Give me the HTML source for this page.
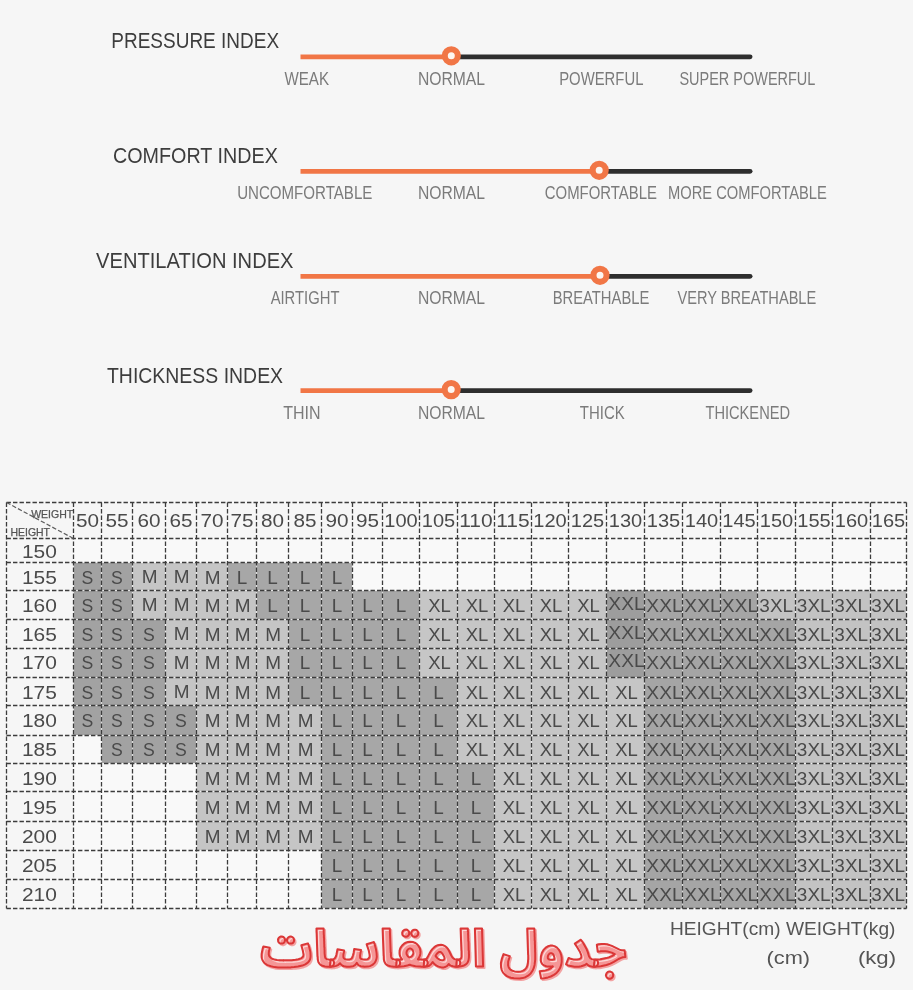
<!DOCTYPE html>
<html lang="en">
<head>
<meta charset="utf-8">
<title>Size chart</title>
<style>
html,body{margin:0;padding:0;background:#f6f6f6;}
body{width:913px;height:990px;overflow:hidden;font-family:"Liberation Sans",sans-serif;}
#page{position:relative;width:913px;height:990px;background:#f6f6f6;overflow:hidden;}
svg{position:absolute;left:0;top:0;display:block;will-change:transform;}
svg text{font-family:"Liberation Sans",sans-serif;white-space:pre;}
</style>
</head>
<body>
<div id="page">
<svg id="indices" width="913" height="990" viewBox="0 0 913 990">
<g class="slider">
<text x="111.29" y="48.40" font-size="22.3" fill="#3d3d3d" textLength="167.83" lengthAdjust="spacingAndGlyphs">PRESSURE INDEX</text>
<line x1="451.3" y1="56.8" x2="750.1" y2="56.8" stroke="#2e2e2e" stroke-width="4.8" stroke-linecap="round"/>
<line x1="300.5" y1="56.8" x2="451.3" y2="56.8" stroke="#f17646" stroke-width="4.8"/>
<circle cx="451.3" cy="55.8" r="6.55" fill="#fdf6f1" stroke="#f17646" stroke-width="6.1"/>
<text x="284.45" y="85.00" font-size="17.5" fill="#7b7b7b" textLength="44.60" lengthAdjust="spacingAndGlyphs">WEAK</text>
<text x="417.95" y="85.00" font-size="17.5" fill="#7b7b7b" textLength="67.10" lengthAdjust="spacingAndGlyphs">NORMAL</text>
<text x="559.15" y="85.00" font-size="17.5" fill="#7b7b7b" textLength="84.30" lengthAdjust="spacingAndGlyphs">POWERFUL</text>
<text x="679.45" y="85.00" font-size="17.5" fill="#7b7b7b" textLength="135.90" lengthAdjust="spacingAndGlyphs">SUPER POWERFUL</text>
</g>
<g class="slider">
<text x="112.98" y="163.00" font-size="22.3" fill="#3d3d3d" textLength="164.83" lengthAdjust="spacingAndGlyphs">COMFORT INDEX</text>
<line x1="599.2" y1="171.3" x2="750.1" y2="171.3" stroke="#2e2e2e" stroke-width="4.8" stroke-linecap="round"/>
<line x1="300.5" y1="171.3" x2="599.2" y2="171.3" stroke="#f17646" stroke-width="4.8"/>
<circle cx="599.2" cy="170.3" r="6.55" fill="#fdf6f1" stroke="#f17646" stroke-width="6.1"/>
<text x="237.15" y="199.30" font-size="17.5" fill="#7b7b7b" textLength="135.20" lengthAdjust="spacingAndGlyphs">UNCOMFORTABLE</text>
<text x="417.95" y="199.30" font-size="17.5" fill="#7b7b7b" textLength="67.10" lengthAdjust="spacingAndGlyphs">NORMAL</text>
<text x="544.75" y="199.30" font-size="17.5" fill="#7b7b7b" textLength="112.20" lengthAdjust="spacingAndGlyphs">COMFORTABLE</text>
<text x="667.95" y="199.30" font-size="17.5" fill="#7b7b7b" textLength="158.90" lengthAdjust="spacingAndGlyphs">MORE COMFORTABLE</text>
</g>
<g class="slider">
<text x="96.09" y="268.30" font-size="22.3" fill="#3d3d3d" textLength="197.43" lengthAdjust="spacingAndGlyphs">VENTILATION INDEX</text>
<line x1="600.0" y1="276.3" x2="750.1" y2="276.3" stroke="#2e2e2e" stroke-width="4.8" stroke-linecap="round"/>
<line x1="300.5" y1="276.3" x2="600.0" y2="276.3" stroke="#f17646" stroke-width="4.8"/>
<circle cx="600.0" cy="275.3" r="6.55" fill="#fdf6f1" stroke="#f17646" stroke-width="6.1"/>
<text x="270.65" y="304.30" font-size="17.5" fill="#7b7b7b" textLength="68.80" lengthAdjust="spacingAndGlyphs">AIRTIGHT</text>
<text x="417.95" y="304.30" font-size="17.5" fill="#7b7b7b" textLength="67.10" lengthAdjust="spacingAndGlyphs">NORMAL</text>
<text x="552.65" y="304.30" font-size="17.5" fill="#7b7b7b" textLength="96.70" lengthAdjust="spacingAndGlyphs">BREATHABLE</text>
<text x="677.45" y="304.30" font-size="17.5" fill="#7b7b7b" textLength="138.80" lengthAdjust="spacingAndGlyphs">VERY BREATHABLE</text>
</g>
<g class="slider">
<text x="106.98" y="382.50" font-size="22.3" fill="#3d3d3d" textLength="176.13" lengthAdjust="spacingAndGlyphs">THICKNESS INDEX</text>
<line x1="451.2" y1="390.6" x2="750.1" y2="390.6" stroke="#2e2e2e" stroke-width="4.8" stroke-linecap="round"/>
<line x1="300.5" y1="390.6" x2="451.2" y2="390.6" stroke="#f17646" stroke-width="4.8"/>
<circle cx="451.2" cy="389.6" r="6.55" fill="#fdf6f1" stroke="#f17646" stroke-width="6.1"/>
<text x="283.15" y="419.30" font-size="17.5" fill="#7b7b7b" textLength="37.30" lengthAdjust="spacingAndGlyphs">THIN</text>
<text x="417.95" y="419.30" font-size="17.5" fill="#7b7b7b" textLength="67.10" lengthAdjust="spacingAndGlyphs">NORMAL</text>
<text x="579.85" y="419.30" font-size="17.5" fill="#7b7b7b" textLength="44.90" lengthAdjust="spacingAndGlyphs">THICK</text>
<text x="705.45" y="419.30" font-size="17.5" fill="#7b7b7b" textLength="84.60" lengthAdjust="spacingAndGlyphs">THICKENED</text>
</g>
</svg>
<svg id="sizechart" width="913" height="990" viewBox="0 0 913 990">
<g id="grid">
<rect x="73.5" y="538.5" width="833.0" height="24.0" fill="#f9f9f9"/>
<rect x="73.5" y="562.5" width="59.0" height="28.0" fill="#a2a2a2"/>
<rect x="132.5" y="562.5" width="95.0" height="28.0" fill="#c5c5c5"/>
<rect x="227.5" y="562.5" width="125.0" height="28.0" fill="#a7a7a7"/>
<rect x="352.5" y="562.5" width="554.0" height="28.0" fill="#f9f9f9"/>
<rect x="73.5" y="590.5" width="59.0" height="29.0" fill="#a2a2a2"/>
<rect x="132.5" y="590.5" width="124.0" height="29.0" fill="#c5c5c5"/>
<rect x="256.5" y="590.5" width="163.0" height="29.0" fill="#a7a7a7"/>
<rect x="419.5" y="590.5" width="187.0" height="29.0" fill="#c6c6c6"/>
<rect x="606.5" y="590.5" width="151.0" height="29.0" fill="#a5a5a5"/>
<rect x="757.5" y="590.5" width="149.0" height="29.0" fill="#c3c3c3"/>
<rect x="73.5" y="619.5" width="92.0" height="29.0" fill="#a2a2a2"/>
<rect x="165.5" y="619.5" width="123.0" height="29.0" fill="#c5c5c5"/>
<rect x="288.5" y="619.5" width="131.0" height="29.0" fill="#a7a7a7"/>
<rect x="419.5" y="619.5" width="187.0" height="29.0" fill="#c6c6c6"/>
<rect x="606.5" y="619.5" width="189.0" height="29.0" fill="#a5a5a5"/>
<rect x="795.5" y="619.5" width="111.0" height="29.0" fill="#c3c3c3"/>
<rect x="73.5" y="648.5" width="92.0" height="29.0" fill="#a2a2a2"/>
<rect x="165.5" y="648.5" width="123.0" height="29.0" fill="#c5c5c5"/>
<rect x="288.5" y="648.5" width="131.0" height="29.0" fill="#a7a7a7"/>
<rect x="419.5" y="648.5" width="187.0" height="29.0" fill="#c6c6c6"/>
<rect x="606.5" y="648.5" width="189.0" height="29.0" fill="#a5a5a5"/>
<rect x="795.5" y="648.5" width="111.0" height="29.0" fill="#c3c3c3"/>
<rect x="73.5" y="677.5" width="92.0" height="28.0" fill="#a2a2a2"/>
<rect x="165.5" y="677.5" width="123.0" height="28.0" fill="#c5c5c5"/>
<rect x="288.5" y="677.5" width="169.0" height="28.0" fill="#a7a7a7"/>
<rect x="457.5" y="677.5" width="187.0" height="28.0" fill="#c6c6c6"/>
<rect x="644.5" y="677.5" width="151.0" height="28.0" fill="#a5a5a5"/>
<rect x="795.5" y="677.5" width="111.0" height="28.0" fill="#c3c3c3"/>
<rect x="73.5" y="705.5" width="123.0" height="30.0" fill="#a2a2a2"/>
<rect x="196.5" y="705.5" width="125.0" height="30.0" fill="#c5c5c5"/>
<rect x="321.5" y="705.5" width="136.0" height="30.0" fill="#a7a7a7"/>
<rect x="457.5" y="705.5" width="187.0" height="30.0" fill="#c6c6c6"/>
<rect x="644.5" y="705.5" width="151.0" height="30.0" fill="#a5a5a5"/>
<rect x="795.5" y="705.5" width="111.0" height="30.0" fill="#c3c3c3"/>
<rect x="73.5" y="735.5" width="28.0" height="28.0" fill="#f9f9f9"/>
<rect x="101.5" y="735.5" width="95.0" height="28.0" fill="#a2a2a2"/>
<rect x="196.5" y="735.5" width="125.0" height="28.0" fill="#c5c5c5"/>
<rect x="321.5" y="735.5" width="136.0" height="28.0" fill="#a7a7a7"/>
<rect x="457.5" y="735.5" width="187.0" height="28.0" fill="#c6c6c6"/>
<rect x="644.5" y="735.5" width="151.0" height="28.0" fill="#a5a5a5"/>
<rect x="795.5" y="735.5" width="111.0" height="28.0" fill="#c3c3c3"/>
<rect x="73.5" y="763.5" width="123.0" height="28.0" fill="#f9f9f9"/>
<rect x="196.5" y="763.5" width="125.0" height="28.0" fill="#c5c5c5"/>
<rect x="321.5" y="763.5" width="173.0" height="28.0" fill="#a7a7a7"/>
<rect x="494.5" y="763.5" width="150.0" height="28.0" fill="#c6c6c6"/>
<rect x="644.5" y="763.5" width="151.0" height="28.0" fill="#a5a5a5"/>
<rect x="795.5" y="763.5" width="111.0" height="28.0" fill="#c3c3c3"/>
<rect x="73.5" y="791.5" width="123.0" height="30.0" fill="#f9f9f9"/>
<rect x="196.5" y="791.5" width="125.0" height="30.0" fill="#c5c5c5"/>
<rect x="321.5" y="791.5" width="173.0" height="30.0" fill="#a7a7a7"/>
<rect x="494.5" y="791.5" width="150.0" height="30.0" fill="#c6c6c6"/>
<rect x="644.5" y="791.5" width="151.0" height="30.0" fill="#a5a5a5"/>
<rect x="795.5" y="791.5" width="111.0" height="30.0" fill="#c3c3c3"/>
<rect x="73.5" y="821.5" width="123.0" height="29.0" fill="#f9f9f9"/>
<rect x="196.5" y="821.5" width="125.0" height="29.0" fill="#c5c5c5"/>
<rect x="321.5" y="821.5" width="173.0" height="29.0" fill="#a7a7a7"/>
<rect x="494.5" y="821.5" width="150.0" height="29.0" fill="#c6c6c6"/>
<rect x="644.5" y="821.5" width="151.0" height="29.0" fill="#a5a5a5"/>
<rect x="795.5" y="821.5" width="111.0" height="29.0" fill="#c3c3c3"/>
<rect x="73.5" y="850.5" width="248.0" height="29.0" fill="#f9f9f9"/>
<rect x="321.5" y="850.5" width="173.0" height="29.0" fill="#a7a7a7"/>
<rect x="494.5" y="850.5" width="150.0" height="29.0" fill="#c6c6c6"/>
<rect x="644.5" y="850.5" width="151.0" height="29.0" fill="#a5a5a5"/>
<rect x="795.5" y="850.5" width="111.0" height="29.0" fill="#c3c3c3"/>
<rect x="73.5" y="879.5" width="248.0" height="29.0" fill="#f9f9f9"/>
<rect x="321.5" y="879.5" width="173.0" height="29.0" fill="#a7a7a7"/>
<rect x="494.5" y="879.5" width="150.0" height="29.0" fill="#c6c6c6"/>
<rect x="644.5" y="879.5" width="151.0" height="29.0" fill="#a5a5a5"/>
<rect x="795.5" y="879.5" width="111.0" height="29.0" fill="#c3c3c3"/>
<rect x="606.5" y="590.5" width="38.0" height="87.0" fill="#9d9d9d"/>
<line x1="73.5" y1="538.5" x2="73.5" y2="908.5" stroke="#ffffff" stroke-opacity="0.6" stroke-width="1.2"/>
<line x1="101.5" y1="538.5" x2="101.5" y2="908.5" stroke="#ffffff" stroke-opacity="0.6" stroke-width="1.2"/>
<line x1="132.5" y1="538.5" x2="132.5" y2="908.5" stroke="#ffffff" stroke-opacity="0.6" stroke-width="1.2"/>
<line x1="165.5" y1="538.5" x2="165.5" y2="908.5" stroke="#ffffff" stroke-opacity="0.6" stroke-width="1.2"/>
<line x1="196.5" y1="538.5" x2="196.5" y2="908.5" stroke="#ffffff" stroke-opacity="0.6" stroke-width="1.2"/>
<line x1="227.5" y1="538.5" x2="227.5" y2="908.5" stroke="#ffffff" stroke-opacity="0.6" stroke-width="1.2"/>
<line x1="256.5" y1="538.5" x2="256.5" y2="908.5" stroke="#ffffff" stroke-opacity="0.6" stroke-width="1.2"/>
<line x1="288.5" y1="538.5" x2="288.5" y2="908.5" stroke="#ffffff" stroke-opacity="0.6" stroke-width="1.2"/>
<line x1="321.5" y1="538.5" x2="321.5" y2="908.5" stroke="#ffffff" stroke-opacity="0.6" stroke-width="1.2"/>
<line x1="352.5" y1="538.5" x2="352.5" y2="908.5" stroke="#ffffff" stroke-opacity="0.6" stroke-width="1.2"/>
<line x1="382.5" y1="538.5" x2="382.5" y2="908.5" stroke="#ffffff" stroke-opacity="0.6" stroke-width="1.2"/>
<line x1="419.5" y1="538.5" x2="419.5" y2="908.5" stroke="#ffffff" stroke-opacity="0.6" stroke-width="1.2"/>
<line x1="457.5" y1="538.5" x2="457.5" y2="908.5" stroke="#ffffff" stroke-opacity="0.6" stroke-width="1.2"/>
<line x1="494.5" y1="538.5" x2="494.5" y2="908.5" stroke="#ffffff" stroke-opacity="0.6" stroke-width="1.2"/>
<line x1="531.5" y1="538.5" x2="531.5" y2="908.5" stroke="#ffffff" stroke-opacity="0.6" stroke-width="1.2"/>
<line x1="568.5" y1="538.5" x2="568.5" y2="908.5" stroke="#ffffff" stroke-opacity="0.6" stroke-width="1.2"/>
<line x1="606.5" y1="538.5" x2="606.5" y2="908.5" stroke="#ffffff" stroke-opacity="0.6" stroke-width="1.2"/>
<line x1="644.5" y1="538.5" x2="644.5" y2="908.5" stroke="#ffffff" stroke-opacity="0.6" stroke-width="1.2"/>
<line x1="682.5" y1="538.5" x2="682.5" y2="908.5" stroke="#ffffff" stroke-opacity="0.6" stroke-width="1.2"/>
<line x1="720.5" y1="538.5" x2="720.5" y2="908.5" stroke="#ffffff" stroke-opacity="0.6" stroke-width="1.2"/>
<line x1="757.5" y1="538.5" x2="757.5" y2="908.5" stroke="#ffffff" stroke-opacity="0.6" stroke-width="1.2"/>
<line x1="795.5" y1="538.5" x2="795.5" y2="908.5" stroke="#ffffff" stroke-opacity="0.6" stroke-width="1.2"/>
<line x1="832.5" y1="538.5" x2="832.5" y2="908.5" stroke="#ffffff" stroke-opacity="0.6" stroke-width="1.2"/>
<line x1="870.5" y1="538.5" x2="870.5" y2="908.5" stroke="#ffffff" stroke-opacity="0.6" stroke-width="1.2"/>
<line x1="906.5" y1="538.5" x2="906.5" y2="908.5" stroke="#ffffff" stroke-opacity="0.6" stroke-width="1.2"/>
<line x1="73.5" y1="538.5" x2="906.5" y2="538.5" stroke="#ffffff" stroke-opacity="0.6" stroke-width="1.2"/>
<line x1="73.5" y1="562.5" x2="906.5" y2="562.5" stroke="#ffffff" stroke-opacity="0.6" stroke-width="1.2"/>
<line x1="73.5" y1="590.5" x2="906.5" y2="590.5" stroke="#ffffff" stroke-opacity="0.6" stroke-width="1.2"/>
<line x1="73.5" y1="619.5" x2="906.5" y2="619.5" stroke="#ffffff" stroke-opacity="0.6" stroke-width="1.2"/>
<line x1="73.5" y1="648.5" x2="906.5" y2="648.5" stroke="#ffffff" stroke-opacity="0.6" stroke-width="1.2"/>
<line x1="73.5" y1="677.5" x2="906.5" y2="677.5" stroke="#ffffff" stroke-opacity="0.6" stroke-width="1.2"/>
<line x1="73.5" y1="705.5" x2="906.5" y2="705.5" stroke="#ffffff" stroke-opacity="0.6" stroke-width="1.2"/>
<line x1="73.5" y1="735.5" x2="906.5" y2="735.5" stroke="#ffffff" stroke-opacity="0.6" stroke-width="1.2"/>
<line x1="73.5" y1="763.5" x2="906.5" y2="763.5" stroke="#ffffff" stroke-opacity="0.6" stroke-width="1.2"/>
<line x1="73.5" y1="791.5" x2="906.5" y2="791.5" stroke="#ffffff" stroke-opacity="0.6" stroke-width="1.2"/>
<line x1="73.5" y1="821.5" x2="906.5" y2="821.5" stroke="#ffffff" stroke-opacity="0.6" stroke-width="1.2"/>
<line x1="73.5" y1="850.5" x2="906.5" y2="850.5" stroke="#ffffff" stroke-opacity="0.6" stroke-width="1.2"/>
<line x1="73.5" y1="879.5" x2="906.5" y2="879.5" stroke="#ffffff" stroke-opacity="0.6" stroke-width="1.2"/>
<line x1="73.5" y1="908.5" x2="906.5" y2="908.5" stroke="#ffffff" stroke-opacity="0.6" stroke-width="1.2"/>
<line x1="6.5" y1="502.5" x2="6.5" y2="908.5" stroke="#3c3c3c" stroke-width="1.3" stroke-dasharray="4.4 2.1"/>
<line x1="73.5" y1="502.5" x2="73.5" y2="908.5" stroke="#3c3c3c" stroke-width="1.3" stroke-dasharray="4.4 2.1"/>
<line x1="101.5" y1="502.5" x2="101.5" y2="908.5" stroke="#3c3c3c" stroke-width="1.3" stroke-dasharray="4.4 2.1"/>
<line x1="132.5" y1="502.5" x2="132.5" y2="908.5" stroke="#3c3c3c" stroke-width="1.3" stroke-dasharray="4.4 2.1"/>
<line x1="165.5" y1="502.5" x2="165.5" y2="908.5" stroke="#3c3c3c" stroke-width="1.3" stroke-dasharray="4.4 2.1"/>
<line x1="196.5" y1="502.5" x2="196.5" y2="908.5" stroke="#3c3c3c" stroke-width="1.3" stroke-dasharray="4.4 2.1"/>
<line x1="227.5" y1="502.5" x2="227.5" y2="908.5" stroke="#3c3c3c" stroke-width="1.3" stroke-dasharray="4.4 2.1"/>
<line x1="256.5" y1="502.5" x2="256.5" y2="908.5" stroke="#3c3c3c" stroke-width="1.3" stroke-dasharray="4.4 2.1"/>
<line x1="288.5" y1="502.5" x2="288.5" y2="908.5" stroke="#3c3c3c" stroke-width="1.3" stroke-dasharray="4.4 2.1"/>
<line x1="321.5" y1="502.5" x2="321.5" y2="908.5" stroke="#3c3c3c" stroke-width="1.3" stroke-dasharray="4.4 2.1"/>
<line x1="352.5" y1="502.5" x2="352.5" y2="908.5" stroke="#3c3c3c" stroke-width="1.3" stroke-dasharray="4.4 2.1"/>
<line x1="382.5" y1="502.5" x2="382.5" y2="908.5" stroke="#3c3c3c" stroke-width="1.3" stroke-dasharray="4.4 2.1"/>
<line x1="419.5" y1="502.5" x2="419.5" y2="908.5" stroke="#3c3c3c" stroke-width="1.3" stroke-dasharray="4.4 2.1"/>
<line x1="457.5" y1="502.5" x2="457.5" y2="908.5" stroke="#3c3c3c" stroke-width="1.3" stroke-dasharray="4.4 2.1"/>
<line x1="494.5" y1="502.5" x2="494.5" y2="908.5" stroke="#3c3c3c" stroke-width="1.3" stroke-dasharray="4.4 2.1"/>
<line x1="531.5" y1="502.5" x2="531.5" y2="908.5" stroke="#3c3c3c" stroke-width="1.3" stroke-dasharray="4.4 2.1"/>
<line x1="568.5" y1="502.5" x2="568.5" y2="908.5" stroke="#3c3c3c" stroke-width="1.3" stroke-dasharray="4.4 2.1"/>
<line x1="606.5" y1="502.5" x2="606.5" y2="908.5" stroke="#3c3c3c" stroke-width="1.3" stroke-dasharray="4.4 2.1"/>
<line x1="644.5" y1="502.5" x2="644.5" y2="908.5" stroke="#3c3c3c" stroke-width="1.3" stroke-dasharray="4.4 2.1"/>
<line x1="682.5" y1="502.5" x2="682.5" y2="908.5" stroke="#3c3c3c" stroke-width="1.3" stroke-dasharray="4.4 2.1"/>
<line x1="720.5" y1="502.5" x2="720.5" y2="908.5" stroke="#3c3c3c" stroke-width="1.3" stroke-dasharray="4.4 2.1"/>
<line x1="757.5" y1="502.5" x2="757.5" y2="908.5" stroke="#3c3c3c" stroke-width="1.3" stroke-dasharray="4.4 2.1"/>
<line x1="795.5" y1="502.5" x2="795.5" y2="908.5" stroke="#3c3c3c" stroke-width="1.3" stroke-dasharray="4.4 2.1"/>
<line x1="832.5" y1="502.5" x2="832.5" y2="908.5" stroke="#3c3c3c" stroke-width="1.3" stroke-dasharray="4.4 2.1"/>
<line x1="870.5" y1="502.5" x2="870.5" y2="908.5" stroke="#3c3c3c" stroke-width="1.3" stroke-dasharray="4.4 2.1"/>
<line x1="906.5" y1="502.5" x2="906.5" y2="908.5" stroke="#3c3c3c" stroke-width="1.3" stroke-dasharray="4.4 2.1"/>
<line x1="6.5" y1="502.5" x2="906.5" y2="502.5" stroke="#3c3c3c" stroke-width="1.3" stroke-dasharray="4.4 2.1"/>
<line x1="6.5" y1="538.5" x2="906.5" y2="538.5" stroke="#3c3c3c" stroke-width="1.3" stroke-dasharray="4.4 2.1"/>
<line x1="6.5" y1="562.5" x2="906.5" y2="562.5" stroke="#3c3c3c" stroke-width="1.3" stroke-dasharray="4.4 2.1"/>
<line x1="6.5" y1="590.5" x2="906.5" y2="590.5" stroke="#3c3c3c" stroke-width="1.3" stroke-dasharray="4.4 2.1"/>
<line x1="6.5" y1="619.5" x2="906.5" y2="619.5" stroke="#3c3c3c" stroke-width="1.3" stroke-dasharray="4.4 2.1"/>
<line x1="6.5" y1="648.5" x2="906.5" y2="648.5" stroke="#3c3c3c" stroke-width="1.3" stroke-dasharray="4.4 2.1"/>
<line x1="6.5" y1="677.5" x2="906.5" y2="677.5" stroke="#3c3c3c" stroke-width="1.3" stroke-dasharray="4.4 2.1"/>
<line x1="6.5" y1="705.5" x2="906.5" y2="705.5" stroke="#3c3c3c" stroke-width="1.3" stroke-dasharray="4.4 2.1"/>
<line x1="6.5" y1="735.5" x2="906.5" y2="735.5" stroke="#3c3c3c" stroke-width="1.3" stroke-dasharray="4.4 2.1"/>
<line x1="6.5" y1="763.5" x2="906.5" y2="763.5" stroke="#3c3c3c" stroke-width="1.3" stroke-dasharray="4.4 2.1"/>
<line x1="6.5" y1="791.5" x2="906.5" y2="791.5" stroke="#3c3c3c" stroke-width="1.3" stroke-dasharray="4.4 2.1"/>
<line x1="6.5" y1="821.5" x2="906.5" y2="821.5" stroke="#3c3c3c" stroke-width="1.3" stroke-dasharray="4.4 2.1"/>
<line x1="6.5" y1="850.5" x2="906.5" y2="850.5" stroke="#3c3c3c" stroke-width="1.3" stroke-dasharray="4.4 2.1"/>
<line x1="6.5" y1="879.5" x2="906.5" y2="879.5" stroke="#3c3c3c" stroke-width="1.3" stroke-dasharray="4.4 2.1"/>
<line x1="6.5" y1="908.5" x2="906.5" y2="908.5" stroke="#3c3c3c" stroke-width="1.3" stroke-dasharray="4.4 2.1"/>
<line x1="6.5" y1="502.5" x2="73.5" y2="538.5" stroke="#5c5c5c" stroke-width="1.2" stroke-dasharray="4.4 2.1"/>
<text x="31.18" y="517.70" font-size="10.4" fill="#555" textLength="42.04" lengthAdjust="spacingAndGlyphs" stroke="#555" stroke-width="0.25">WEIGHT</text>
<text x="10.48" y="536.30" font-size="10.4" fill="#555" textLength="39.54" lengthAdjust="spacingAndGlyphs" stroke="#555" stroke-width="0.25">HEIGHT</text>
<text x="75.98" y="526.90" font-size="18.8" fill="#4a4a4a" textLength="23.03" lengthAdjust="spacingAndGlyphs">50</text>
<text x="105.48" y="526.90" font-size="18.8" fill="#4a4a4a" textLength="23.03" lengthAdjust="spacingAndGlyphs">55</text>
<text x="137.48" y="526.90" font-size="18.8" fill="#4a4a4a" textLength="23.03" lengthAdjust="spacingAndGlyphs">60</text>
<text x="169.48" y="526.90" font-size="18.8" fill="#4a4a4a" textLength="23.03" lengthAdjust="spacingAndGlyphs">65</text>
<text x="200.48" y="526.90" font-size="18.8" fill="#4a4a4a" textLength="23.03" lengthAdjust="spacingAndGlyphs">70</text>
<text x="230.48" y="526.90" font-size="18.8" fill="#4a4a4a" textLength="23.03" lengthAdjust="spacingAndGlyphs">75</text>
<text x="260.98" y="526.90" font-size="18.8" fill="#4a4a4a" textLength="23.03" lengthAdjust="spacingAndGlyphs">80</text>
<text x="293.48" y="526.90" font-size="18.8" fill="#4a4a4a" textLength="23.03" lengthAdjust="spacingAndGlyphs">85</text>
<text x="325.48" y="526.90" font-size="18.8" fill="#4a4a4a" textLength="23.03" lengthAdjust="spacingAndGlyphs">90</text>
<text x="355.98" y="526.90" font-size="18.8" fill="#4a4a4a" textLength="23.03" lengthAdjust="spacingAndGlyphs">95</text>
<text x="384.28" y="526.90" font-size="18.8" fill="#4a4a4a" textLength="33.43" lengthAdjust="spacingAndGlyphs">100</text>
<text x="421.78" y="526.90" font-size="18.8" fill="#4a4a4a" textLength="33.43" lengthAdjust="spacingAndGlyphs">105</text>
<text x="459.28" y="526.90" font-size="18.8" fill="#4a4a4a" textLength="33.43" lengthAdjust="spacingAndGlyphs">110</text>
<text x="496.28" y="526.90" font-size="18.8" fill="#4a4a4a" textLength="33.43" lengthAdjust="spacingAndGlyphs">115</text>
<text x="533.28" y="526.90" font-size="18.8" fill="#4a4a4a" textLength="33.43" lengthAdjust="spacingAndGlyphs">120</text>
<text x="570.78" y="526.90" font-size="18.8" fill="#4a4a4a" textLength="33.43" lengthAdjust="spacingAndGlyphs">125</text>
<text x="608.78" y="526.90" font-size="18.8" fill="#4a4a4a" textLength="33.43" lengthAdjust="spacingAndGlyphs">130</text>
<text x="646.78" y="526.90" font-size="18.8" fill="#4a4a4a" textLength="33.43" lengthAdjust="spacingAndGlyphs">135</text>
<text x="684.78" y="526.90" font-size="18.8" fill="#4a4a4a" textLength="33.43" lengthAdjust="spacingAndGlyphs">140</text>
<text x="722.28" y="526.90" font-size="18.8" fill="#4a4a4a" textLength="33.43" lengthAdjust="spacingAndGlyphs">145</text>
<text x="759.78" y="526.90" font-size="18.8" fill="#4a4a4a" textLength="33.43" lengthAdjust="spacingAndGlyphs">150</text>
<text x="797.28" y="526.90" font-size="18.8" fill="#4a4a4a" textLength="33.43" lengthAdjust="spacingAndGlyphs">155</text>
<text x="834.78" y="526.90" font-size="18.8" fill="#4a4a4a" textLength="33.43" lengthAdjust="spacingAndGlyphs">160</text>
<text x="871.78" y="526.90" font-size="18.8" fill="#4a4a4a" textLength="33.43" lengthAdjust="spacingAndGlyphs">165</text>
<text x="21.98" y="557.50" font-size="18.8" fill="#4a4a4a" textLength="34.93" lengthAdjust="spacingAndGlyphs">150</text>
<text x="21.98" y="583.80" font-size="18.8" fill="#4a4a4a" textLength="34.93" lengthAdjust="spacingAndGlyphs">155</text>
<text x="81.61" y="583.80" font-size="18.8" fill="#4a4a4a" textLength="11.78" lengthAdjust="spacingAndGlyphs">S</text>
<text x="111.11" y="583.80" font-size="18.8" fill="#4a4a4a" textLength="11.78" lengthAdjust="spacingAndGlyphs">S</text>
<text x="141.71" y="582.50" font-size="18.8" fill="#4a4a4a" textLength="15.78" lengthAdjust="spacingAndGlyphs">M</text>
<text x="173.71" y="582.50" font-size="18.8" fill="#4a4a4a" textLength="15.78" lengthAdjust="spacingAndGlyphs">M</text>
<text x="204.71" y="583.80" font-size="18.8" fill="#4a4a4a" textLength="15.78" lengthAdjust="spacingAndGlyphs">M</text>
<text x="236.76" y="583.80" font-size="18.8" fill="#4a4a4a" textLength="10.48" lengthAdjust="spacingAndGlyphs">L</text>
<text x="267.26" y="583.80" font-size="18.8" fill="#4a4a4a" textLength="10.48" lengthAdjust="spacingAndGlyphs">L</text>
<text x="299.76" y="583.80" font-size="18.8" fill="#4a4a4a" textLength="10.48" lengthAdjust="spacingAndGlyphs">L</text>
<text x="331.76" y="583.80" font-size="18.8" fill="#4a4a4a" textLength="10.48" lengthAdjust="spacingAndGlyphs">L</text>
<text x="21.98" y="611.80" font-size="18.8" fill="#4a4a4a" textLength="34.93" lengthAdjust="spacingAndGlyphs">160</text>
<text x="81.61" y="611.80" font-size="18.8" fill="#4a4a4a" textLength="11.78" lengthAdjust="spacingAndGlyphs">S</text>
<text x="111.11" y="611.80" font-size="18.8" fill="#4a4a4a" textLength="11.78" lengthAdjust="spacingAndGlyphs">S</text>
<text x="141.71" y="610.50" font-size="18.8" fill="#4a4a4a" textLength="15.78" lengthAdjust="spacingAndGlyphs">M</text>
<text x="173.71" y="610.50" font-size="18.8" fill="#4a4a4a" textLength="15.78" lengthAdjust="spacingAndGlyphs">M</text>
<text x="204.71" y="611.80" font-size="18.8" fill="#4a4a4a" textLength="15.78" lengthAdjust="spacingAndGlyphs">M</text>
<text x="234.71" y="611.80" font-size="18.8" fill="#4a4a4a" textLength="15.78" lengthAdjust="spacingAndGlyphs">M</text>
<text x="267.26" y="611.80" font-size="18.8" fill="#4a4a4a" textLength="10.48" lengthAdjust="spacingAndGlyphs">L</text>
<text x="299.76" y="611.80" font-size="18.8" fill="#4a4a4a" textLength="10.48" lengthAdjust="spacingAndGlyphs">L</text>
<text x="331.76" y="611.80" font-size="18.8" fill="#4a4a4a" textLength="10.48" lengthAdjust="spacingAndGlyphs">L</text>
<text x="362.26" y="611.80" font-size="18.8" fill="#4a4a4a" textLength="10.48" lengthAdjust="spacingAndGlyphs">L</text>
<text x="395.76" y="611.80" font-size="18.8" fill="#4a4a4a" textLength="10.48" lengthAdjust="spacingAndGlyphs">L</text>
<text x="428.21" y="611.80" font-size="18.8" fill="#4a4a4a" textLength="22.58" lengthAdjust="spacingAndGlyphs">XL</text>
<text x="465.71" y="611.80" font-size="18.8" fill="#4a4a4a" textLength="22.58" lengthAdjust="spacingAndGlyphs">XL</text>
<text x="502.71" y="611.80" font-size="18.8" fill="#4a4a4a" textLength="22.58" lengthAdjust="spacingAndGlyphs">XL</text>
<text x="539.71" y="611.80" font-size="18.8" fill="#4a4a4a" textLength="22.58" lengthAdjust="spacingAndGlyphs">XL</text>
<text x="577.21" y="611.80" font-size="18.8" fill="#4a4a4a" textLength="22.58" lengthAdjust="spacingAndGlyphs">XL</text>
<text x="608.36" y="609.80" font-size="18.8" fill="#4a4a4a" textLength="36.28" lengthAdjust="spacingAndGlyphs">XXL</text>
<text x="646.36" y="611.80" font-size="18.8" fill="#4a4a4a" textLength="36.28" lengthAdjust="spacingAndGlyphs">XXL</text>
<text x="684.36" y="611.80" font-size="18.8" fill="#4a4a4a" textLength="36.28" lengthAdjust="spacingAndGlyphs">XXL</text>
<text x="721.86" y="611.80" font-size="18.8" fill="#4a4a4a" textLength="36.28" lengthAdjust="spacingAndGlyphs">XXL</text>
<text x="759.36" y="611.80" font-size="18.8" fill="#4a4a4a" textLength="33.68" lengthAdjust="spacingAndGlyphs">3XL</text>
<text x="796.86" y="611.80" font-size="18.8" fill="#4a4a4a" textLength="33.68" lengthAdjust="spacingAndGlyphs">3XL</text>
<text x="834.36" y="611.80" font-size="18.8" fill="#4a4a4a" textLength="33.68" lengthAdjust="spacingAndGlyphs">3XL</text>
<text x="871.36" y="611.80" font-size="18.8" fill="#4a4a4a" textLength="33.68" lengthAdjust="spacingAndGlyphs">3XL</text>
<text x="21.98" y="640.60" font-size="18.8" fill="#4a4a4a" textLength="34.93" lengthAdjust="spacingAndGlyphs">165</text>
<text x="81.61" y="640.60" font-size="18.8" fill="#4a4a4a" textLength="11.78" lengthAdjust="spacingAndGlyphs">S</text>
<text x="111.11" y="640.60" font-size="18.8" fill="#4a4a4a" textLength="11.78" lengthAdjust="spacingAndGlyphs">S</text>
<text x="143.11" y="640.60" font-size="18.8" fill="#4a4a4a" textLength="11.78" lengthAdjust="spacingAndGlyphs">S</text>
<text x="173.71" y="639.80" font-size="18.8" fill="#4a4a4a" textLength="15.78" lengthAdjust="spacingAndGlyphs">M</text>
<text x="204.71" y="640.60" font-size="18.8" fill="#4a4a4a" textLength="15.78" lengthAdjust="spacingAndGlyphs">M</text>
<text x="234.71" y="640.60" font-size="18.8" fill="#4a4a4a" textLength="15.78" lengthAdjust="spacingAndGlyphs">M</text>
<text x="265.21" y="640.60" font-size="18.8" fill="#4a4a4a" textLength="15.78" lengthAdjust="spacingAndGlyphs">M</text>
<text x="299.76" y="640.60" font-size="18.8" fill="#4a4a4a" textLength="10.48" lengthAdjust="spacingAndGlyphs">L</text>
<text x="331.76" y="640.60" font-size="18.8" fill="#4a4a4a" textLength="10.48" lengthAdjust="spacingAndGlyphs">L</text>
<text x="362.26" y="640.60" font-size="18.8" fill="#4a4a4a" textLength="10.48" lengthAdjust="spacingAndGlyphs">L</text>
<text x="395.76" y="640.60" font-size="18.8" fill="#4a4a4a" textLength="10.48" lengthAdjust="spacingAndGlyphs">L</text>
<text x="428.21" y="640.60" font-size="18.8" fill="#4a4a4a" textLength="22.58" lengthAdjust="spacingAndGlyphs">XL</text>
<text x="465.71" y="640.60" font-size="18.8" fill="#4a4a4a" textLength="22.58" lengthAdjust="spacingAndGlyphs">XL</text>
<text x="502.71" y="640.60" font-size="18.8" fill="#4a4a4a" textLength="22.58" lengthAdjust="spacingAndGlyphs">XL</text>
<text x="539.71" y="640.60" font-size="18.8" fill="#4a4a4a" textLength="22.58" lengthAdjust="spacingAndGlyphs">XL</text>
<text x="577.21" y="640.60" font-size="18.8" fill="#4a4a4a" textLength="22.58" lengthAdjust="spacingAndGlyphs">XL</text>
<text x="608.36" y="638.60" font-size="18.8" fill="#4a4a4a" textLength="36.28" lengthAdjust="spacingAndGlyphs">XXL</text>
<text x="646.36" y="640.60" font-size="18.8" fill="#4a4a4a" textLength="36.28" lengthAdjust="spacingAndGlyphs">XXL</text>
<text x="684.36" y="640.60" font-size="18.8" fill="#4a4a4a" textLength="36.28" lengthAdjust="spacingAndGlyphs">XXL</text>
<text x="721.86" y="640.60" font-size="18.8" fill="#4a4a4a" textLength="36.28" lengthAdjust="spacingAndGlyphs">XXL</text>
<text x="759.36" y="640.60" font-size="18.8" fill="#4a4a4a" textLength="36.28" lengthAdjust="spacingAndGlyphs">XXL</text>
<text x="796.86" y="640.60" font-size="18.8" fill="#4a4a4a" textLength="33.68" lengthAdjust="spacingAndGlyphs">3XL</text>
<text x="834.36" y="640.60" font-size="18.8" fill="#4a4a4a" textLength="33.68" lengthAdjust="spacingAndGlyphs">3XL</text>
<text x="871.36" y="640.60" font-size="18.8" fill="#4a4a4a" textLength="33.68" lengthAdjust="spacingAndGlyphs">3XL</text>
<text x="21.98" y="669.40" font-size="18.8" fill="#4a4a4a" textLength="34.93" lengthAdjust="spacingAndGlyphs">170</text>
<text x="81.61" y="669.40" font-size="18.8" fill="#4a4a4a" textLength="11.78" lengthAdjust="spacingAndGlyphs">S</text>
<text x="111.11" y="669.40" font-size="18.8" fill="#4a4a4a" textLength="11.78" lengthAdjust="spacingAndGlyphs">S</text>
<text x="143.11" y="669.40" font-size="18.8" fill="#4a4a4a" textLength="11.78" lengthAdjust="spacingAndGlyphs">S</text>
<text x="173.71" y="668.60" font-size="18.8" fill="#4a4a4a" textLength="15.78" lengthAdjust="spacingAndGlyphs">M</text>
<text x="204.71" y="669.40" font-size="18.8" fill="#4a4a4a" textLength="15.78" lengthAdjust="spacingAndGlyphs">M</text>
<text x="234.71" y="669.40" font-size="18.8" fill="#4a4a4a" textLength="15.78" lengthAdjust="spacingAndGlyphs">M</text>
<text x="265.21" y="669.40" font-size="18.8" fill="#4a4a4a" textLength="15.78" lengthAdjust="spacingAndGlyphs">M</text>
<text x="299.76" y="669.40" font-size="18.8" fill="#4a4a4a" textLength="10.48" lengthAdjust="spacingAndGlyphs">L</text>
<text x="331.76" y="669.40" font-size="18.8" fill="#4a4a4a" textLength="10.48" lengthAdjust="spacingAndGlyphs">L</text>
<text x="362.26" y="669.40" font-size="18.8" fill="#4a4a4a" textLength="10.48" lengthAdjust="spacingAndGlyphs">L</text>
<text x="395.76" y="669.40" font-size="18.8" fill="#4a4a4a" textLength="10.48" lengthAdjust="spacingAndGlyphs">L</text>
<text x="428.21" y="669.40" font-size="18.8" fill="#4a4a4a" textLength="22.58" lengthAdjust="spacingAndGlyphs">XL</text>
<text x="465.71" y="669.40" font-size="18.8" fill="#4a4a4a" textLength="22.58" lengthAdjust="spacingAndGlyphs">XL</text>
<text x="502.71" y="669.40" font-size="18.8" fill="#4a4a4a" textLength="22.58" lengthAdjust="spacingAndGlyphs">XL</text>
<text x="539.71" y="669.40" font-size="18.8" fill="#4a4a4a" textLength="22.58" lengthAdjust="spacingAndGlyphs">XL</text>
<text x="577.21" y="669.40" font-size="18.8" fill="#4a4a4a" textLength="22.58" lengthAdjust="spacingAndGlyphs">XL</text>
<text x="608.36" y="667.40" font-size="18.8" fill="#4a4a4a" textLength="36.28" lengthAdjust="spacingAndGlyphs">XXL</text>
<text x="646.36" y="669.40" font-size="18.8" fill="#4a4a4a" textLength="36.28" lengthAdjust="spacingAndGlyphs">XXL</text>
<text x="684.36" y="669.40" font-size="18.8" fill="#4a4a4a" textLength="36.28" lengthAdjust="spacingAndGlyphs">XXL</text>
<text x="721.86" y="669.40" font-size="18.8" fill="#4a4a4a" textLength="36.28" lengthAdjust="spacingAndGlyphs">XXL</text>
<text x="759.36" y="669.40" font-size="18.8" fill="#4a4a4a" textLength="36.28" lengthAdjust="spacingAndGlyphs">XXL</text>
<text x="796.86" y="669.40" font-size="18.8" fill="#4a4a4a" textLength="33.68" lengthAdjust="spacingAndGlyphs">3XL</text>
<text x="834.36" y="669.40" font-size="18.8" fill="#4a4a4a" textLength="33.68" lengthAdjust="spacingAndGlyphs">3XL</text>
<text x="871.36" y="669.40" font-size="18.8" fill="#4a4a4a" textLength="33.68" lengthAdjust="spacingAndGlyphs">3XL</text>
<text x="21.98" y="698.50" font-size="18.8" fill="#4a4a4a" textLength="34.93" lengthAdjust="spacingAndGlyphs">175</text>
<text x="81.61" y="698.50" font-size="18.8" fill="#4a4a4a" textLength="11.78" lengthAdjust="spacingAndGlyphs">S</text>
<text x="111.11" y="698.50" font-size="18.8" fill="#4a4a4a" textLength="11.78" lengthAdjust="spacingAndGlyphs">S</text>
<text x="143.11" y="698.50" font-size="18.8" fill="#4a4a4a" textLength="11.78" lengthAdjust="spacingAndGlyphs">S</text>
<text x="173.71" y="697.70" font-size="18.8" fill="#4a4a4a" textLength="15.78" lengthAdjust="spacingAndGlyphs">M</text>
<text x="204.71" y="698.50" font-size="18.8" fill="#4a4a4a" textLength="15.78" lengthAdjust="spacingAndGlyphs">M</text>
<text x="234.71" y="698.50" font-size="18.8" fill="#4a4a4a" textLength="15.78" lengthAdjust="spacingAndGlyphs">M</text>
<text x="265.21" y="698.50" font-size="18.8" fill="#4a4a4a" textLength="15.78" lengthAdjust="spacingAndGlyphs">M</text>
<text x="299.76" y="698.50" font-size="18.8" fill="#4a4a4a" textLength="10.48" lengthAdjust="spacingAndGlyphs">L</text>
<text x="331.76" y="698.50" font-size="18.8" fill="#4a4a4a" textLength="10.48" lengthAdjust="spacingAndGlyphs">L</text>
<text x="362.26" y="698.50" font-size="18.8" fill="#4a4a4a" textLength="10.48" lengthAdjust="spacingAndGlyphs">L</text>
<text x="395.76" y="698.50" font-size="18.8" fill="#4a4a4a" textLength="10.48" lengthAdjust="spacingAndGlyphs">L</text>
<text x="433.26" y="698.50" font-size="18.8" fill="#4a4a4a" textLength="10.48" lengthAdjust="spacingAndGlyphs">L</text>
<text x="465.71" y="698.50" font-size="18.8" fill="#4a4a4a" textLength="22.58" lengthAdjust="spacingAndGlyphs">XL</text>
<text x="502.71" y="698.50" font-size="18.8" fill="#4a4a4a" textLength="22.58" lengthAdjust="spacingAndGlyphs">XL</text>
<text x="539.71" y="698.50" font-size="18.8" fill="#4a4a4a" textLength="22.58" lengthAdjust="spacingAndGlyphs">XL</text>
<text x="577.21" y="698.50" font-size="18.8" fill="#4a4a4a" textLength="22.58" lengthAdjust="spacingAndGlyphs">XL</text>
<text x="615.21" y="698.50" font-size="18.8" fill="#4a4a4a" textLength="22.58" lengthAdjust="spacingAndGlyphs">XL</text>
<text x="646.36" y="698.50" font-size="18.8" fill="#4a4a4a" textLength="36.28" lengthAdjust="spacingAndGlyphs">XXL</text>
<text x="684.36" y="698.50" font-size="18.8" fill="#4a4a4a" textLength="36.28" lengthAdjust="spacingAndGlyphs">XXL</text>
<text x="721.86" y="698.50" font-size="18.8" fill="#4a4a4a" textLength="36.28" lengthAdjust="spacingAndGlyphs">XXL</text>
<text x="759.36" y="698.50" font-size="18.8" fill="#4a4a4a" textLength="36.28" lengthAdjust="spacingAndGlyphs">XXL</text>
<text x="796.86" y="698.50" font-size="18.8" fill="#4a4a4a" textLength="33.68" lengthAdjust="spacingAndGlyphs">3XL</text>
<text x="834.36" y="698.50" font-size="18.8" fill="#4a4a4a" textLength="33.68" lengthAdjust="spacingAndGlyphs">3XL</text>
<text x="871.36" y="698.50" font-size="18.8" fill="#4a4a4a" textLength="33.68" lengthAdjust="spacingAndGlyphs">3XL</text>
<text x="21.98" y="727.10" font-size="18.8" fill="#4a4a4a" textLength="34.93" lengthAdjust="spacingAndGlyphs">180</text>
<text x="81.61" y="727.10" font-size="18.8" fill="#4a4a4a" textLength="11.78" lengthAdjust="spacingAndGlyphs">S</text>
<text x="111.11" y="727.10" font-size="18.8" fill="#4a4a4a" textLength="11.78" lengthAdjust="spacingAndGlyphs">S</text>
<text x="143.11" y="727.10" font-size="18.8" fill="#4a4a4a" textLength="11.78" lengthAdjust="spacingAndGlyphs">S</text>
<text x="175.11" y="727.10" font-size="18.8" fill="#4a4a4a" textLength="11.78" lengthAdjust="spacingAndGlyphs">S</text>
<text x="204.71" y="727.10" font-size="18.8" fill="#4a4a4a" textLength="15.78" lengthAdjust="spacingAndGlyphs">M</text>
<text x="234.71" y="727.10" font-size="18.8" fill="#4a4a4a" textLength="15.78" lengthAdjust="spacingAndGlyphs">M</text>
<text x="265.21" y="727.10" font-size="18.8" fill="#4a4a4a" textLength="15.78" lengthAdjust="spacingAndGlyphs">M</text>
<text x="297.71" y="727.10" font-size="18.8" fill="#4a4a4a" textLength="15.78" lengthAdjust="spacingAndGlyphs">M</text>
<text x="331.76" y="727.10" font-size="18.8" fill="#4a4a4a" textLength="10.48" lengthAdjust="spacingAndGlyphs">L</text>
<text x="362.26" y="727.10" font-size="18.8" fill="#4a4a4a" textLength="10.48" lengthAdjust="spacingAndGlyphs">L</text>
<text x="395.76" y="727.10" font-size="18.8" fill="#4a4a4a" textLength="10.48" lengthAdjust="spacingAndGlyphs">L</text>
<text x="433.26" y="727.10" font-size="18.8" fill="#4a4a4a" textLength="10.48" lengthAdjust="spacingAndGlyphs">L</text>
<text x="465.71" y="727.10" font-size="18.8" fill="#4a4a4a" textLength="22.58" lengthAdjust="spacingAndGlyphs">XL</text>
<text x="502.71" y="727.10" font-size="18.8" fill="#4a4a4a" textLength="22.58" lengthAdjust="spacingAndGlyphs">XL</text>
<text x="539.71" y="727.10" font-size="18.8" fill="#4a4a4a" textLength="22.58" lengthAdjust="spacingAndGlyphs">XL</text>
<text x="577.21" y="727.10" font-size="18.8" fill="#4a4a4a" textLength="22.58" lengthAdjust="spacingAndGlyphs">XL</text>
<text x="615.21" y="727.10" font-size="18.8" fill="#4a4a4a" textLength="22.58" lengthAdjust="spacingAndGlyphs">XL</text>
<text x="646.36" y="727.10" font-size="18.8" fill="#4a4a4a" textLength="36.28" lengthAdjust="spacingAndGlyphs">XXL</text>
<text x="684.36" y="727.10" font-size="18.8" fill="#4a4a4a" textLength="36.28" lengthAdjust="spacingAndGlyphs">XXL</text>
<text x="721.86" y="727.10" font-size="18.8" fill="#4a4a4a" textLength="36.28" lengthAdjust="spacingAndGlyphs">XXL</text>
<text x="759.36" y="727.10" font-size="18.8" fill="#4a4a4a" textLength="36.28" lengthAdjust="spacingAndGlyphs">XXL</text>
<text x="796.86" y="727.10" font-size="18.8" fill="#4a4a4a" textLength="33.68" lengthAdjust="spacingAndGlyphs">3XL</text>
<text x="834.36" y="727.10" font-size="18.8" fill="#4a4a4a" textLength="33.68" lengthAdjust="spacingAndGlyphs">3XL</text>
<text x="871.36" y="727.10" font-size="18.8" fill="#4a4a4a" textLength="33.68" lengthAdjust="spacingAndGlyphs">3XL</text>
<text x="21.98" y="755.90" font-size="18.8" fill="#4a4a4a" textLength="34.93" lengthAdjust="spacingAndGlyphs">185</text>
<text x="111.11" y="755.90" font-size="18.8" fill="#4a4a4a" textLength="11.78" lengthAdjust="spacingAndGlyphs">S</text>
<text x="143.11" y="755.90" font-size="18.8" fill="#4a4a4a" textLength="11.78" lengthAdjust="spacingAndGlyphs">S</text>
<text x="175.11" y="755.90" font-size="18.8" fill="#4a4a4a" textLength="11.78" lengthAdjust="spacingAndGlyphs">S</text>
<text x="204.71" y="755.90" font-size="18.8" fill="#4a4a4a" textLength="15.78" lengthAdjust="spacingAndGlyphs">M</text>
<text x="234.71" y="755.90" font-size="18.8" fill="#4a4a4a" textLength="15.78" lengthAdjust="spacingAndGlyphs">M</text>
<text x="265.21" y="755.90" font-size="18.8" fill="#4a4a4a" textLength="15.78" lengthAdjust="spacingAndGlyphs">M</text>
<text x="297.71" y="755.90" font-size="18.8" fill="#4a4a4a" textLength="15.78" lengthAdjust="spacingAndGlyphs">M</text>
<text x="331.76" y="755.90" font-size="18.8" fill="#4a4a4a" textLength="10.48" lengthAdjust="spacingAndGlyphs">L</text>
<text x="362.26" y="755.90" font-size="18.8" fill="#4a4a4a" textLength="10.48" lengthAdjust="spacingAndGlyphs">L</text>
<text x="395.76" y="755.90" font-size="18.8" fill="#4a4a4a" textLength="10.48" lengthAdjust="spacingAndGlyphs">L</text>
<text x="433.26" y="755.90" font-size="18.8" fill="#4a4a4a" textLength="10.48" lengthAdjust="spacingAndGlyphs">L</text>
<text x="465.71" y="755.90" font-size="18.8" fill="#4a4a4a" textLength="22.58" lengthAdjust="spacingAndGlyphs">XL</text>
<text x="502.71" y="755.90" font-size="18.8" fill="#4a4a4a" textLength="22.58" lengthAdjust="spacingAndGlyphs">XL</text>
<text x="539.71" y="755.90" font-size="18.8" fill="#4a4a4a" textLength="22.58" lengthAdjust="spacingAndGlyphs">XL</text>
<text x="577.21" y="755.90" font-size="18.8" fill="#4a4a4a" textLength="22.58" lengthAdjust="spacingAndGlyphs">XL</text>
<text x="615.21" y="755.90" font-size="18.8" fill="#4a4a4a" textLength="22.58" lengthAdjust="spacingAndGlyphs">XL</text>
<text x="646.36" y="755.90" font-size="18.8" fill="#4a4a4a" textLength="36.28" lengthAdjust="spacingAndGlyphs">XXL</text>
<text x="684.36" y="755.90" font-size="18.8" fill="#4a4a4a" textLength="36.28" lengthAdjust="spacingAndGlyphs">XXL</text>
<text x="721.86" y="755.90" font-size="18.8" fill="#4a4a4a" textLength="36.28" lengthAdjust="spacingAndGlyphs">XXL</text>
<text x="759.36" y="755.90" font-size="18.8" fill="#4a4a4a" textLength="36.28" lengthAdjust="spacingAndGlyphs">XXL</text>
<text x="796.86" y="755.90" font-size="18.8" fill="#4a4a4a" textLength="33.68" lengthAdjust="spacingAndGlyphs">3XL</text>
<text x="834.36" y="755.90" font-size="18.8" fill="#4a4a4a" textLength="33.68" lengthAdjust="spacingAndGlyphs">3XL</text>
<text x="871.36" y="755.90" font-size="18.8" fill="#4a4a4a" textLength="33.68" lengthAdjust="spacingAndGlyphs">3XL</text>
<text x="21.98" y="785.20" font-size="18.8" fill="#4a4a4a" textLength="34.93" lengthAdjust="spacingAndGlyphs">190</text>
<text x="204.71" y="785.20" font-size="18.8" fill="#4a4a4a" textLength="15.78" lengthAdjust="spacingAndGlyphs">M</text>
<text x="234.71" y="785.20" font-size="18.8" fill="#4a4a4a" textLength="15.78" lengthAdjust="spacingAndGlyphs">M</text>
<text x="265.21" y="785.20" font-size="18.8" fill="#4a4a4a" textLength="15.78" lengthAdjust="spacingAndGlyphs">M</text>
<text x="297.71" y="785.20" font-size="18.8" fill="#4a4a4a" textLength="15.78" lengthAdjust="spacingAndGlyphs">M</text>
<text x="331.76" y="785.20" font-size="18.8" fill="#4a4a4a" textLength="10.48" lengthAdjust="spacingAndGlyphs">L</text>
<text x="362.26" y="785.20" font-size="18.8" fill="#4a4a4a" textLength="10.48" lengthAdjust="spacingAndGlyphs">L</text>
<text x="395.76" y="785.20" font-size="18.8" fill="#4a4a4a" textLength="10.48" lengthAdjust="spacingAndGlyphs">L</text>
<text x="433.26" y="785.20" font-size="18.8" fill="#4a4a4a" textLength="10.48" lengthAdjust="spacingAndGlyphs">L</text>
<text x="470.76" y="785.20" font-size="18.8" fill="#4a4a4a" textLength="10.48" lengthAdjust="spacingAndGlyphs">L</text>
<text x="502.71" y="785.20" font-size="18.8" fill="#4a4a4a" textLength="22.58" lengthAdjust="spacingAndGlyphs">XL</text>
<text x="539.71" y="785.20" font-size="18.8" fill="#4a4a4a" textLength="22.58" lengthAdjust="spacingAndGlyphs">XL</text>
<text x="577.21" y="785.20" font-size="18.8" fill="#4a4a4a" textLength="22.58" lengthAdjust="spacingAndGlyphs">XL</text>
<text x="615.21" y="785.20" font-size="18.8" fill="#4a4a4a" textLength="22.58" lengthAdjust="spacingAndGlyphs">XL</text>
<text x="646.36" y="785.20" font-size="18.8" fill="#4a4a4a" textLength="36.28" lengthAdjust="spacingAndGlyphs">XXL</text>
<text x="684.36" y="785.20" font-size="18.8" fill="#4a4a4a" textLength="36.28" lengthAdjust="spacingAndGlyphs">XXL</text>
<text x="721.86" y="785.20" font-size="18.8" fill="#4a4a4a" textLength="36.28" lengthAdjust="spacingAndGlyphs">XXL</text>
<text x="759.36" y="785.20" font-size="18.8" fill="#4a4a4a" textLength="36.28" lengthAdjust="spacingAndGlyphs">XXL</text>
<text x="796.86" y="785.20" font-size="18.8" fill="#4a4a4a" textLength="33.68" lengthAdjust="spacingAndGlyphs">3XL</text>
<text x="834.36" y="785.20" font-size="18.8" fill="#4a4a4a" textLength="33.68" lengthAdjust="spacingAndGlyphs">3XL</text>
<text x="871.36" y="785.20" font-size="18.8" fill="#4a4a4a" textLength="33.68" lengthAdjust="spacingAndGlyphs">3XL</text>
<text x="21.98" y="814.00" font-size="18.8" fill="#4a4a4a" textLength="34.93" lengthAdjust="spacingAndGlyphs">195</text>
<text x="204.71" y="814.00" font-size="18.8" fill="#4a4a4a" textLength="15.78" lengthAdjust="spacingAndGlyphs">M</text>
<text x="234.71" y="814.00" font-size="18.8" fill="#4a4a4a" textLength="15.78" lengthAdjust="spacingAndGlyphs">M</text>
<text x="265.21" y="814.00" font-size="18.8" fill="#4a4a4a" textLength="15.78" lengthAdjust="spacingAndGlyphs">M</text>
<text x="297.71" y="814.00" font-size="18.8" fill="#4a4a4a" textLength="15.78" lengthAdjust="spacingAndGlyphs">M</text>
<text x="331.76" y="814.00" font-size="18.8" fill="#4a4a4a" textLength="10.48" lengthAdjust="spacingAndGlyphs">L</text>
<text x="362.26" y="814.00" font-size="18.8" fill="#4a4a4a" textLength="10.48" lengthAdjust="spacingAndGlyphs">L</text>
<text x="395.76" y="814.00" font-size="18.8" fill="#4a4a4a" textLength="10.48" lengthAdjust="spacingAndGlyphs">L</text>
<text x="433.26" y="814.00" font-size="18.8" fill="#4a4a4a" textLength="10.48" lengthAdjust="spacingAndGlyphs">L</text>
<text x="470.76" y="814.00" font-size="18.8" fill="#4a4a4a" textLength="10.48" lengthAdjust="spacingAndGlyphs">L</text>
<text x="502.71" y="814.00" font-size="18.8" fill="#4a4a4a" textLength="22.58" lengthAdjust="spacingAndGlyphs">XL</text>
<text x="539.71" y="814.00" font-size="18.8" fill="#4a4a4a" textLength="22.58" lengthAdjust="spacingAndGlyphs">XL</text>
<text x="577.21" y="814.00" font-size="18.8" fill="#4a4a4a" textLength="22.58" lengthAdjust="spacingAndGlyphs">XL</text>
<text x="615.21" y="814.00" font-size="18.8" fill="#4a4a4a" textLength="22.58" lengthAdjust="spacingAndGlyphs">XL</text>
<text x="646.36" y="814.00" font-size="18.8" fill="#4a4a4a" textLength="36.28" lengthAdjust="spacingAndGlyphs">XXL</text>
<text x="684.36" y="814.00" font-size="18.8" fill="#4a4a4a" textLength="36.28" lengthAdjust="spacingAndGlyphs">XXL</text>
<text x="721.86" y="814.00" font-size="18.8" fill="#4a4a4a" textLength="36.28" lengthAdjust="spacingAndGlyphs">XXL</text>
<text x="759.36" y="814.00" font-size="18.8" fill="#4a4a4a" textLength="36.28" lengthAdjust="spacingAndGlyphs">XXL</text>
<text x="796.86" y="814.00" font-size="18.8" fill="#4a4a4a" textLength="33.68" lengthAdjust="spacingAndGlyphs">3XL</text>
<text x="834.36" y="814.00" font-size="18.8" fill="#4a4a4a" textLength="33.68" lengthAdjust="spacingAndGlyphs">3XL</text>
<text x="871.36" y="814.00" font-size="18.8" fill="#4a4a4a" textLength="33.68" lengthAdjust="spacingAndGlyphs">3XL</text>
<text x="21.98" y="842.70" font-size="18.8" fill="#4a4a4a" textLength="34.93" lengthAdjust="spacingAndGlyphs">200</text>
<text x="204.71" y="842.70" font-size="18.8" fill="#4a4a4a" textLength="15.78" lengthAdjust="spacingAndGlyphs">M</text>
<text x="234.71" y="842.70" font-size="18.8" fill="#4a4a4a" textLength="15.78" lengthAdjust="spacingAndGlyphs">M</text>
<text x="265.21" y="842.70" font-size="18.8" fill="#4a4a4a" textLength="15.78" lengthAdjust="spacingAndGlyphs">M</text>
<text x="297.71" y="842.70" font-size="18.8" fill="#4a4a4a" textLength="15.78" lengthAdjust="spacingAndGlyphs">M</text>
<text x="331.76" y="842.70" font-size="18.8" fill="#4a4a4a" textLength="10.48" lengthAdjust="spacingAndGlyphs">L</text>
<text x="362.26" y="842.70" font-size="18.8" fill="#4a4a4a" textLength="10.48" lengthAdjust="spacingAndGlyphs">L</text>
<text x="395.76" y="842.70" font-size="18.8" fill="#4a4a4a" textLength="10.48" lengthAdjust="spacingAndGlyphs">L</text>
<text x="433.26" y="842.70" font-size="18.8" fill="#4a4a4a" textLength="10.48" lengthAdjust="spacingAndGlyphs">L</text>
<text x="470.76" y="842.70" font-size="18.8" fill="#4a4a4a" textLength="10.48" lengthAdjust="spacingAndGlyphs">L</text>
<text x="502.71" y="842.70" font-size="18.8" fill="#4a4a4a" textLength="22.58" lengthAdjust="spacingAndGlyphs">XL</text>
<text x="539.71" y="842.70" font-size="18.8" fill="#4a4a4a" textLength="22.58" lengthAdjust="spacingAndGlyphs">XL</text>
<text x="577.21" y="842.70" font-size="18.8" fill="#4a4a4a" textLength="22.58" lengthAdjust="spacingAndGlyphs">XL</text>
<text x="615.21" y="842.70" font-size="18.8" fill="#4a4a4a" textLength="22.58" lengthAdjust="spacingAndGlyphs">XL</text>
<text x="646.36" y="842.70" font-size="18.8" fill="#4a4a4a" textLength="36.28" lengthAdjust="spacingAndGlyphs">XXL</text>
<text x="684.36" y="842.70" font-size="18.8" fill="#4a4a4a" textLength="36.28" lengthAdjust="spacingAndGlyphs">XXL</text>
<text x="721.86" y="842.70" font-size="18.8" fill="#4a4a4a" textLength="36.28" lengthAdjust="spacingAndGlyphs">XXL</text>
<text x="759.36" y="842.70" font-size="18.8" fill="#4a4a4a" textLength="36.28" lengthAdjust="spacingAndGlyphs">XXL</text>
<text x="796.86" y="842.70" font-size="18.8" fill="#4a4a4a" textLength="33.68" lengthAdjust="spacingAndGlyphs">3XL</text>
<text x="834.36" y="842.70" font-size="18.8" fill="#4a4a4a" textLength="33.68" lengthAdjust="spacingAndGlyphs">3XL</text>
<text x="871.36" y="842.70" font-size="18.8" fill="#4a4a4a" textLength="33.68" lengthAdjust="spacingAndGlyphs">3XL</text>
<text x="21.98" y="872.00" font-size="18.8" fill="#4a4a4a" textLength="34.93" lengthAdjust="spacingAndGlyphs">205</text>
<text x="331.76" y="872.00" font-size="18.8" fill="#4a4a4a" textLength="10.48" lengthAdjust="spacingAndGlyphs">L</text>
<text x="362.26" y="872.00" font-size="18.8" fill="#4a4a4a" textLength="10.48" lengthAdjust="spacingAndGlyphs">L</text>
<text x="395.76" y="872.00" font-size="18.8" fill="#4a4a4a" textLength="10.48" lengthAdjust="spacingAndGlyphs">L</text>
<text x="433.26" y="872.00" font-size="18.8" fill="#4a4a4a" textLength="10.48" lengthAdjust="spacingAndGlyphs">L</text>
<text x="470.76" y="872.00" font-size="18.8" fill="#4a4a4a" textLength="10.48" lengthAdjust="spacingAndGlyphs">L</text>
<text x="502.71" y="872.00" font-size="18.8" fill="#4a4a4a" textLength="22.58" lengthAdjust="spacingAndGlyphs">XL</text>
<text x="539.71" y="872.00" font-size="18.8" fill="#4a4a4a" textLength="22.58" lengthAdjust="spacingAndGlyphs">XL</text>
<text x="577.21" y="872.00" font-size="18.8" fill="#4a4a4a" textLength="22.58" lengthAdjust="spacingAndGlyphs">XL</text>
<text x="615.21" y="872.00" font-size="18.8" fill="#4a4a4a" textLength="22.58" lengthAdjust="spacingAndGlyphs">XL</text>
<text x="646.36" y="872.00" font-size="18.8" fill="#4a4a4a" textLength="36.28" lengthAdjust="spacingAndGlyphs">XXL</text>
<text x="684.36" y="872.00" font-size="18.8" fill="#4a4a4a" textLength="36.28" lengthAdjust="spacingAndGlyphs">XXL</text>
<text x="721.86" y="872.00" font-size="18.8" fill="#4a4a4a" textLength="36.28" lengthAdjust="spacingAndGlyphs">XXL</text>
<text x="759.36" y="872.00" font-size="18.8" fill="#4a4a4a" textLength="36.28" lengthAdjust="spacingAndGlyphs">XXL</text>
<text x="796.86" y="872.00" font-size="18.8" fill="#4a4a4a" textLength="33.68" lengthAdjust="spacingAndGlyphs">3XL</text>
<text x="834.36" y="872.00" font-size="18.8" fill="#4a4a4a" textLength="33.68" lengthAdjust="spacingAndGlyphs">3XL</text>
<text x="871.36" y="872.00" font-size="18.8" fill="#4a4a4a" textLength="33.68" lengthAdjust="spacingAndGlyphs">3XL</text>
<text x="21.98" y="900.80" font-size="18.8" fill="#4a4a4a" textLength="34.93" lengthAdjust="spacingAndGlyphs">210</text>
<text x="331.76" y="900.80" font-size="18.8" fill="#4a4a4a" textLength="10.48" lengthAdjust="spacingAndGlyphs">L</text>
<text x="362.26" y="900.80" font-size="18.8" fill="#4a4a4a" textLength="10.48" lengthAdjust="spacingAndGlyphs">L</text>
<text x="395.76" y="900.80" font-size="18.8" fill="#4a4a4a" textLength="10.48" lengthAdjust="spacingAndGlyphs">L</text>
<text x="433.26" y="900.80" font-size="18.8" fill="#4a4a4a" textLength="10.48" lengthAdjust="spacingAndGlyphs">L</text>
<text x="470.76" y="900.80" font-size="18.8" fill="#4a4a4a" textLength="10.48" lengthAdjust="spacingAndGlyphs">L</text>
<text x="502.71" y="900.80" font-size="18.8" fill="#4a4a4a" textLength="22.58" lengthAdjust="spacingAndGlyphs">XL</text>
<text x="539.71" y="900.80" font-size="18.8" fill="#4a4a4a" textLength="22.58" lengthAdjust="spacingAndGlyphs">XL</text>
<text x="577.21" y="900.80" font-size="18.8" fill="#4a4a4a" textLength="22.58" lengthAdjust="spacingAndGlyphs">XL</text>
<text x="615.21" y="900.80" font-size="18.8" fill="#4a4a4a" textLength="22.58" lengthAdjust="spacingAndGlyphs">XL</text>
<text x="646.36" y="900.80" font-size="18.8" fill="#4a4a4a" textLength="36.28" lengthAdjust="spacingAndGlyphs">XXL</text>
<text x="684.36" y="900.80" font-size="18.8" fill="#4a4a4a" textLength="36.28" lengthAdjust="spacingAndGlyphs">XXL</text>
<text x="721.86" y="900.80" font-size="18.8" fill="#4a4a4a" textLength="36.28" lengthAdjust="spacingAndGlyphs">XXL</text>
<text x="759.36" y="900.80" font-size="18.8" fill="#4a4a4a" textLength="36.28" lengthAdjust="spacingAndGlyphs">XXL</text>
<text x="796.86" y="900.80" font-size="18.8" fill="#4a4a4a" textLength="33.68" lengthAdjust="spacingAndGlyphs">3XL</text>
<text x="834.36" y="900.80" font-size="18.8" fill="#4a4a4a" textLength="33.68" lengthAdjust="spacingAndGlyphs">3XL</text>
<text x="871.36" y="900.80" font-size="18.8" fill="#4a4a4a" textLength="33.68" lengthAdjust="spacingAndGlyphs">3XL</text>
</g>
<g id="units">
<text x="669.91" y="935.30" font-size="18.2" fill="#555" textLength="225.58" lengthAdjust="spacingAndGlyphs">HEIGHT(cm) WEIGHT(kg)</text>
<text x="766.51" y="964.00" font-size="18.2" fill="#555" textLength="43.58" lengthAdjust="spacingAndGlyphs">(cm)</text>
<text x="857.91" y="964.00" font-size="18.2" fill="#555" textLength="38.18" lengthAdjust="spacingAndGlyphs">(kg)</text>
</g>
<g id="title-ar" fill-rule="evenodd" stroke-linejoin="round" stroke-linecap="round">
<defs>
<path id="g12" d="M310.4,952.1 309.2,947 308,943.5 307.8,943.4 301.3,945.3 302.9,951.1 303.5,954.6 303.3,956 302.9,956.8 301.5,958.1 298.4,959.3 295.5,959.8 291.6,960.2 283.5,960.3 283.4,960.5 283.3,960.3 279.7,960.3 279.6,960.2 277,960.1 274.5,959.6 272.3,958.8 271,958 269.4,956.3 268.8,954.6 268.8,952.8 269,950.9 269.8,947.8 263.4,946.4 262.6,948.9 261.9,952.3 261.6,954.2 261.6,957.1 261.9,958.5 262.5,960.3 263.8,962.3 265,963.5 266.9,964.8 268.3,965.4 270.9,966.3 274.4,967.1 278,967.5 288.1,967.5 288.2,967.4 290.9,967.4 291.1,967.3 294.1,967.1 298,966.6 302.4,965.6 305.3,964.4 307.8,962.7 309.2,961 309.9,959.7 310.4,958 310.6,955.9ZM289.8,936.6 288.6,937.1 287.6,938.2 287,939.3 287,940.9 287.8,942.5 288.7,943.3 289.6,943.6 291.6,943.6 292.8,943 293.6,942.1 294.1,940.8 293.9,939.1 293.4,938 292.5,937.1 291.3,936.6ZM280.5,936.6 279.5,937.1 278.7,937.9 278.2,938.8 278,939.3 278.2,941.4 278.8,942.5 279.6,943.1 280.8,943.6 282.3,943.6 283.5,943.1 284.4,942.2 285.1,940.4 284.9,939.2 284.4,938 283.4,937 281.8,936.5Z"/>
<clipPath id="c12"><use href="#g12" clip-rule="evenodd"/></clipPath>
<path id="g11" d="M316.5,928.4 316.4,928.8 316.5,928.9 316.5,932.2 316.6,932.3 317.4,956.4 317.6,956.6 317.7,959.3 318.3,961.9 319.3,963.6 320.3,964.6 322.4,965.8 325,966.5 327.6,966.7 330.3,966.7 331.6,966.5 333.1,965.6 333.9,964.1 334,962.4 333.9,961.8 333.2,960.6 332.4,959.9 331.8,959.7 328.9,959.6 326.8,959.2 325.6,958.3 325,956.8 324.6,953.2 324.6,950.2 324.5,950 324.5,947.2 324.3,947 324.3,944.2 324.2,944 324.2,941.2 324.1,941 324.1,938 323.9,937.9 323.9,935 323.8,934.9 323.6,928.4Z"/>
<clipPath id="c11"><use href="#g11" clip-rule="evenodd"/></clipPath>
<path id="g10" d="M373.9,942.1 373.4,942.1 366.6,944.2 368.7,950.4 369.6,954.9 369.6,956.4 369.3,957.5 368.9,958.1 367.6,959.2 365.9,959.6 363.7,959.6 362.6,959.4 361,958.8 360.3,958.1 360.1,957.5 360.1,955.4 361,950 354.2,948.9 353.7,952.4 353,955.3 352.4,957.1 351.9,958 350.9,958.9 349.6,959.4 348.7,959.6 345.7,959.4 344.6,958.9 343.8,958.1 343.4,957.2 343.4,954.7 344.2,950.6 337.5,949.3 336.3,955 335.8,956.6 335,958 334.1,958.9 332.7,959.4 330.5,959.6 329.9,966.7 333.3,966.6 336.2,965.9 338.4,964.8 340,963.2 340.8,964.3 342.5,965.7 344,966.3 346.8,966.7 349.6,966.7 353.2,966.2 355,965.2 356.3,963.7 356.8,962.8 357.9,964.5 358.9,965.4 360.7,966.2 362.6,966.6 364,966.6 364.1,966.7 367.9,966.6 370,966.1 371.9,965.2 373.4,964.1 374.4,963.1 375.5,961.5 376.4,959.2 376.8,956.9 376.6,953.2 376,949.3 374.8,944.7Z"/>
<clipPath id="c10"><use href="#g10" clip-rule="evenodd"/></clipPath>
<path id="g9" d="M382.6,928.4 383.6,955.6 383.7,955.8 383.8,959.2 384.3,961.5 385.5,963.7 386.8,964.9 388.5,965.8 390.5,966.3 393.7,966.7 396.6,966.7 397.8,966.5 398.9,965.8 400,964.3 400.1,962.3 399.5,960.7 398.9,960.2 397.9,959.7 395,959.6 392.7,959 391.5,957.9 391.1,956.7 390.9,955 390.9,952.6 390.7,952.5 389.8,928.5 389.7,928.4Z"/>
<clipPath id="c9"><use href="#g9" clip-rule="evenodd"/></clipPath>
<path id="g8" d="M402.1,945.5 400.8,947.3 400.1,948.7 399.6,950.6 399.5,953.2 399.7,954.9 400.2,956.4 401.3,958.3 402.2,959.3 401,959.6 396.7,959.6 396.6,959.7 396.1,966.7 398.7,966.7 404,966.2 407.3,965.6 409.4,964.8 410,964.8 412.2,965.6 415.5,966.2 419.2,966.6 420.9,966.6 421,966.7 424.1,966.7 425.4,966.5 426.2,966.1 427.2,965 427.8,963.2 427.6,961.9 427,960.6 426.3,960.1 424.9,959.6 420.6,959.6 420.5,959.4 418,959.4 417.9,959.3 419.2,957.3 419.8,955.9 420.3,953.9 420.5,951.6 420.2,949.6 419.7,947.9 418.5,945.9 416.7,943.9 415.4,943 413.3,942.1 409.8,941.7 407.9,941.9 405.7,942.7 403.8,943.9ZM410.7,948.6 411.7,949.1 412.5,949.9 413.3,951.7 413.4,952.8 413.3,953.7 412.9,954.7 412,955.9 410.6,957.1 409.4,957.6 407.8,956.2 407.2,955.3 406.6,954.1 406.5,952.5 406.8,951.2 407.2,950.4 408.3,949.1 409.4,948.6ZM414.1,929.7 413,930.1 412,931 411.3,932.3 411.2,933.7 411.5,934.6 412.2,935.8 413.4,936.6 415.1,936.9 416.4,936.5 417.7,935.3 418.2,934 418.2,932.4 417.3,930.7 416.3,929.9 415.5,929.7ZM404.8,929.7 403.9,930.1 402.7,931.3 402.2,932.6 402.3,934.4 402.7,935.2 403.8,936.2 404.9,936.7 406.6,936.7 407.6,936.3 408.7,935.2 409.2,934 409.1,932 408.5,930.9 407.2,929.8 406.1,929.6Z"/>
<clipPath id="c8"><use href="#g8" clip-rule="evenodd"/></clipPath>
<path id="g7" d="M424.1,960.1 423.7,966.7 427,966.5 429.2,965.7 431,964.3 432.6,962 434.4,964.1 436.4,965.6 438.5,966.6 441.5,967.4 443.8,967.4 445.2,967 447.2,965.8 448.8,964 449.5,964.8 450.7,965.6 452.8,966.3 455,966.7 457.5,966.6 458.9,965.9 459.7,965.2 460.2,963.9 460.2,962 459.5,960.5 458,959.7 456.2,959.6 454.6,959.2 453.7,958.6 452.3,957.2 451.4,955.8 449,950.7 448.2,949.4 446.4,947.2 445.5,946.4 443.9,945.5 442.2,944.9 441.1,944.8 439,944.9 437.8,945.2 436.2,945.9 434.3,947.2 432.3,949.1 431,950.8 429.5,953.4 427.6,957.1 426.6,958.6 425.4,959.4 424.2,959.6ZM438.3,952.4 439.2,952 440.6,952 441.2,952.4 442.6,953.9 444.1,956.6 444.5,957.7 444.5,958.9 443.6,959.9 443,960.2 441.3,960.2 439.6,959.7 437.8,958.5 435.7,956.3 435.6,955.8 436.9,953.7Z"/>
<clipPath id="c7"><use href="#g7" clip-rule="evenodd"/></clipPath>
<path id="g6" d="M467.8,928.4 460.6,928.4 461.4,950.7 461.5,950.8 461.5,956.8 461.2,958.1 460.2,959 459.1,959.4 456.7,959.6 456.2,966.7 458.2,966.7 461.3,966.3 463.2,965.8 464.9,965 466.2,964.1 467.2,963.1 467.8,962 468.5,960.3 468.9,957.7 469,954.2 468.9,954.1 468.9,950.8 468.7,950.7 468.5,941.3 468.3,941.2 468.3,938.2 468.2,938 468.2,935 468.1,934.9 468.1,931.9 467.9,931.8Z"/>
<clipPath id="c6"><use href="#g6" clip-rule="evenodd"/></clipPath>
<path id="g5" d="M474.9,928.4 475.9,966.5 483.1,966.5 482,928.4Z"/>
<clipPath id="c5"><use href="#g5" clip-rule="evenodd"/></clipPath>
<path id="g3" d="M534.3,928.4 527.2,928.4 528.1,955 528.2,955.1 528.2,959.6 528.1,959.7 527.9,962.8 527.3,965.7 526.5,967.5 525.2,969.2 523.6,970.4 522.6,970.9 520.9,971.4 518.4,971.7 514.6,971.4 512.4,970.8 510.9,969.9 509.8,968.9 509,967.9 508.6,967.1 508.1,965.2 508.2,961.6 509.8,956.2 503.5,954.1 501.9,958.5 501.2,961.4 500.9,963.5 501.1,967.6 501.7,970.1 503,972.6 505.2,974.9 506.9,976.1 508.5,976.9 510.7,977.7 514,978.3 519.7,978.5 522.6,978.1 525.5,977.2 528.1,975.7 530.7,973.4 532.5,970.8 533.7,968.2 534.6,964.9 535.2,959.7 535.2,952.4 535.1,952.3 535.1,948.5 535,948.3 535,944.6 534.9,944.4 534.9,940.8 534.7,940.6 534.7,936.9 534.6,936.7 534.6,932.9 534.5,932.8Z"/>
<clipPath id="c3"><use href="#g3" clip-rule="evenodd"/></clipPath>
<path id="g2" d="M554.5,946.1 552.6,945.6 550.2,945.6 547.9,946.3 545.7,947.7 544,949.4 543.2,950.4 541.9,952.8 540.9,956.3 540.7,960.3 541.1,962 542,963.7 543.2,964.9 544,965.4 546.2,966.3 547.5,966.6 551.2,966.6 552.7,966.2 552.9,966.5 551.3,968 548.2,969.6 545.3,970.4 539.7,971.3 541.1,978.5 544.4,978.2 548,977.4 550.8,976.5 553.9,974.9 555.9,973.5 557.9,971.4 559.6,968.9 560.5,967 561.3,964.4 561.7,961.8 561.7,957.7 561.2,955 560.3,952.4 558.9,949.8 557,947.7ZM549.5,953.7 550.5,953.2 551.5,953.2 552.3,953.6 553.1,954.3 553.8,955.5 554.3,957.2 554.5,958.8 554.3,959.3 552.3,959.7 550,959.7 548.8,959.3 548,958.6 547.8,958 547.8,956.6 548.3,955.1Z"/>
<clipPath id="c2"><use href="#g2" clip-rule="evenodd"/></clipPath>
<path id="g1" d="M574.8,943.6 577.2,947.3 580,952 581.3,955.4 581.4,956.4 581.3,957.3 581,957.9 580.2,958.6 578.7,959.3 577,959.6 573.5,959.4 570.7,958.8 568.9,958 568.5,958 566,964.4 567.5,965.2 569.4,965.8 574.4,966.7 578.9,966.7 581.3,966.3 584.3,965.3 586,964.3 586.5,963.7 587.7,964.9 588.8,965.7 590.4,966.3 592.5,966.7 594.5,966.7 595.8,966.5 596.5,966.1 597.5,965.2 598,963.9 598,962.2 597.5,960.9 596.7,960.1 595.8,959.7 593.8,959.6 591.8,959.2 590.7,958.5 589.8,957.6 589,956.2 587.8,952.1 586.4,948.7 583.4,943.3 580.9,939.7 580.2,940Z"/>
<clipPath id="c1"><use href="#g1" clip-rule="evenodd"/></clipPath>
<path id="g0" d="M608.7,971.6 607.8,971.9 606.6,973.1 606.1,974.3 605.9,975.2 606.1,976.1 606.7,977.4 607.8,978.3 608.9,978.7 610.2,978.7 611.5,978.2 612.6,977.2 613.1,976 613.1,974.4 612.6,973.1 611.5,972.1 610.4,971.6ZM593.9,966.7 598.5,966.6 600.7,966.3 606.5,965 610.4,963.6 613.8,961.9 618.6,959 620.5,958.1 622.9,957.3 625.4,957.1 624.6,950.3 624.5,950.2 621.5,950.2 619.5,949.6 611.9,945.9 607.1,944.3 604.2,943.9 601.6,943.9 598.4,944.3 596.8,944.7 597.7,951.7 601.1,951.2 605.4,951.2 607.5,951.5 611.8,952.6 614.8,954.2 614,954.9 611.9,956 609.2,957.2 606.3,958.1 600.2,959.3 597.3,959.4 597.2,959.6 594.5,959.6Z"/>
<clipPath id="c0"><use href="#g0" clip-rule="evenodd"/></clipPath>
</defs>
<g transform="translate(1.5,1.6)" fill="#f3a3a3" stroke="#f3a3a3" stroke-width="1.9"><use href="#g12"/><use href="#g11"/><use href="#g10"/><use href="#g9"/><use href="#g8"/><use href="#g7"/><use href="#g6"/><use href="#g5"/><use href="#g3"/><use href="#g2"/><use href="#g1"/><use href="#g0"/></g>
<use href="#g12" fill="#f59696"/><g clip-path="url(#c12)"><use href="#g12" transform="translate(1.9,1.9)" fill="none" stroke="#fcd8d8" stroke-width="1.3"/></g>
<use href="#g11" fill="#f59696"/><g clip-path="url(#c11)"><use href="#g11" transform="translate(1.9,1.9)" fill="none" stroke="#fcd8d8" stroke-width="1.3"/></g>
<use href="#g10" fill="#f59696"/><g clip-path="url(#c10)"><use href="#g10" transform="translate(1.9,1.9)" fill="none" stroke="#fcd8d8" stroke-width="1.3"/></g>
<use href="#g9" fill="#f59696"/><g clip-path="url(#c9)"><use href="#g9" transform="translate(1.9,1.9)" fill="none" stroke="#fcd8d8" stroke-width="1.3"/></g>
<use href="#g8" fill="#f59696"/><g clip-path="url(#c8)"><use href="#g8" transform="translate(1.9,1.9)" fill="none" stroke="#fcd8d8" stroke-width="1.3"/></g>
<use href="#g7" fill="#f59696"/><g clip-path="url(#c7)"><use href="#g7" transform="translate(1.9,1.9)" fill="none" stroke="#fcd8d8" stroke-width="1.3"/></g>
<use href="#g6" fill="#f59696"/><g clip-path="url(#c6)"><use href="#g6" transform="translate(1.9,1.9)" fill="none" stroke="#fcd8d8" stroke-width="1.3"/></g>
<use href="#g5" fill="#f59696"/><g clip-path="url(#c5)"><use href="#g5" transform="translate(1.9,1.9)" fill="none" stroke="#fcd8d8" stroke-width="1.3"/></g>
<use href="#g3" fill="#f59696"/><g clip-path="url(#c3)"><use href="#g3" transform="translate(1.9,1.9)" fill="none" stroke="#fcd8d8" stroke-width="1.3"/></g>
<use href="#g2" fill="#f59696"/><g clip-path="url(#c2)"><use href="#g2" transform="translate(1.9,1.9)" fill="none" stroke="#fcd8d8" stroke-width="1.3"/></g>
<use href="#g1" fill="#f59696"/><g clip-path="url(#c1)"><use href="#g1" transform="translate(1.9,1.9)" fill="none" stroke="#fcd8d8" stroke-width="1.3"/></g>
<use href="#g0" fill="#f59696"/><g clip-path="url(#c0)"><use href="#g0" transform="translate(1.9,1.9)" fill="none" stroke="#fcd8d8" stroke-width="1.3"/></g>
<g fill="none" stroke="#db3737" stroke-width="2"><use href="#g12"/><use href="#g11"/><use href="#g10"/><use href="#g9"/><use href="#g8"/><use href="#g7"/><use href="#g6"/><use href="#g5"/><use href="#g3"/><use href="#g2"/><use href="#g1"/><use href="#g0"/></g>
</g>
</svg>
</div>
</body>
</html>
